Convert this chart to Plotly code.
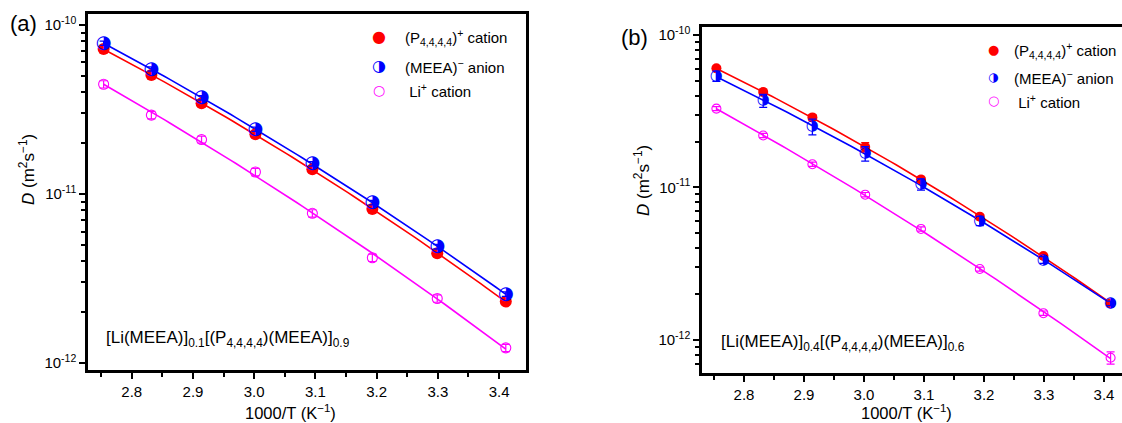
import numpy as np
import plotly.graph_objects as go

W, H = 1122, 423

# ---------------- data ----------------
inv_T = [2.754, 2.832, 2.914, 3.002, 3.095, 3.193, 3.299, 3.411]

# panel (a): [Li(MEEA)]0.1[(P4444)(MEEA)]0.9
a_cation = [7.2e-11, 5.06e-11, 3.44e-11, 2.26e-11, 1.40e-11, 8.15e-12, 4.46e-12, 2.31e-12]
a_cation_err = [2.2e-12, 1.5e-12, 1.0e-12, 0.7e-12, 0.4e-12, 0.25e-12, 0.13e-12, 0.07e-12]
a_anion = [7.8e-11, 5.49e-11, 3.71e-11, 2.42e-11, 1.51e-11, 8.9e-12, 4.88e-12, 2.56e-12]
a_anion_err = [2.3e-12, 1.6e-12, 1.1e-12, 0.7e-12, 0.45e-12, 0.27e-12, 0.15e-12, 0.08e-12]
a_li = [4.46e-11, 2.93e-11, 2.1e-11, 1.35e-11, 7.69e-12, 4.2e-12, 2.41e-12, 1.23e-12]
a_li_err = [2.2e-12, 1.5e-12, 1.0e-12, 0.7e-12, 0.38e-12, 0.21e-12, 0.12e-12, 0.06e-12]

# panel (b): [Li(MEEA)]0.4[(P4444)(MEEA)]0.6
b_cation = [6.04e-11, 4.22e-11, 2.88e-11, 1.84e-11, 1.13e-11, 6.44e-12, 3.56e-12, 1.74e-12]
b_cation_err = [1.8e-12, 2.0e-12, 1.2e-12, 1.3e-12, 0.35e-12, 0.2e-12, 0.07e-12, 0.04e-12]
b_anion = [5.38e-11, 3.71e-11, 2.51e-11, 1.67e-11, 1.05e-11, 6.05e-12, 3.35e-12, 1.74e-12]
b_anion_err = [4.2e-12, 3.6e-12, 3.0e-12, 1.8e-12, 0.9e-12, 0.42e-12, 0.17e-12, 0.06e-12]
b_li = [3.29e-11, 2.19e-11, 1.42e-11, 8.97e-12, 5.35e-12, 2.92e-12, 1.50e-12, 7.66e-13]
b_li_err = [1.0e-12, 0.7e-12, 0.45e-12, 0.3e-12, 0.17e-12, 0.09e-12, 0.05e-12, 0.07e-12]

x_ticks = [2.8, 2.9, 3.0, 3.1, 3.2, 3.3, 3.4]
y_major = [1e-12, 1e-11, 1e-10]
y_major_text = ["10<sup>-12</sup>", "10<sup>-11</sup>", "10<sup>-10</sup>"]

legend_labels = ["(P<sub>4,4,4,4</sub>)<sup>+</sup> cation",
                 "(MEEA)<sup>\u2212</sup> anion",
                 " Li<sup>+</sup> cation"]
comp_a = "[Li(MEEA)]<sub>0.1</sub>[(P<sub>4,4,4,4</sub>)(MEEA)]<sub>0.9</sub>"
comp_b = "[Li(MEEA)]<sub>0.4</sub>[(P<sub>4,4,4,4</sub>)(MEEA)]<sub>0.6</sub>"

RED, BLUE, MAG = "#FF0000", "#0000FF", "#FF00FF"
FONT = "Liberation Sans, Arial, sans-serif"
GLYPH = "DejaVu Sans"

y_minor = [m * 10.0 ** e for e in (-13, -12, -11) for m in range(2, 10)]


def fit_curve(x, y):
    c = np.polyfit(x, np.log10(y), 2)
    xs = np.linspace(min(x), max(x), 80)
    return xs, 10 ** np.polyval(c, xs)


fig = go.Figure()


def add_panel(xa, ya, cat, cat_e, an, an_e, li, li_e, msz, gsz, lsz):
    for vals, col in ((cat, RED), (an, BLUE), (li, MAG)):
        xs, ys = fit_curve(inv_T, vals)
        fig.add_trace(go.Scatter(x=xs, y=ys, mode="lines", xaxis=xa, yaxis=ya,
                                 line=dict(color=col, width=1.6), showlegend=False,
                                 hoverinfo="skip"))
    fig.add_trace(go.Scatter(x=inv_T, y=cat, mode="markers", xaxis=xa, yaxis=ya,
                             marker=dict(symbol="circle", size=msz, color=RED, line=dict(width=0)),
                             error_y=dict(type="data", array=cat_e, color=RED, thickness=1.3, width=4),
                             showlegend=False))
    fig.add_trace(go.Scatter(x=inv_T, y=an, mode="text", xaxis=xa, yaxis=ya, text=["\u25D1"] * len(an),
                             textposition="middle center",
                             textfont=dict(family=GLYPH, size=gsz, color=BLUE),
                             error_y=dict(type="data", array=an_e, color=BLUE, thickness=1.3, width=4),
                             showlegend=False))
    fig.add_trace(go.Scatter(x=inv_T, y=li, mode="markers", xaxis=xa, yaxis=ya,
                             marker=dict(symbol="circle-open", size=lsz, color=MAG, line=dict(width=1.1)),
                             error_y=dict(type="data", array=li_e, color=MAG, thickness=1.2, width=4),
                             showlegend=False))


add_panel("x", "y", a_cation, a_cation_err, a_anion, a_anion_err, a_li, a_li_err, 12, 18, 10)
add_panel("x2", "y2", b_cation, b_cation_err, b_anion, b_anion_err, b_li, b_li_err, 10, 15, 9)

tickfont = dict(family=FONT, size=15, color="black")
xcommon = dict(showline=True, linecolor="black", linewidth=2.5, mirror=True, ticks="outside",
               ticklen=6, tickwidth=2, tickcolor="black", showgrid=False, zeroline=False,
               tickfont=tickfont, automargin=False, tickmode="array", tickvals=x_ticks,
               ticktext=[f"{v:.1f}" for v in x_ticks],
               minor=dict(ticks="outside", dtick=0.05, tick0=2.75, ticklen=4, tickwidth=2,
                          tickcolor="black", showgrid=False))
ycommon = dict(type="log", showline=True, linecolor="black", linewidth=2.5, ticks="outside",
               ticklen=6, tickwidth=2, tickcolor="black", showgrid=False, zeroline=False,
               tickfont=tickfont, automargin=False, tickmode="array", tickvals=y_major,
               ticktext=y_major_text,
               minor=dict(ticks="outside", tickmode="array", tickvals=y_minor, ticklen=4,
                          tickwidth=2, tickcolor="black", showgrid=False))

fig.update_layout(
    width=W, height=H, margin=dict(l=0, r=0, t=0, b=0),
    paper_bgcolor="white", plot_bgcolor="white", showlegend=False,
    xaxis=dict(xcommon, domain=[88 / W, 526 / W], range=[2.7285, 3.444], anchor="y"),
    yaxis=dict(ycommon, domain=[1 - 370 / H, 1 - 14 / H], range=[-12.041, -9.935], mirror=True, anchor="x"),
    xaxis2=dict(xcommon, domain=[702 / W, 1.0], range=[2.73, 3.43], anchor="y2"),
    yaxis2=dict(ycommon, domain=[1 - 373.3 / H, 1 - 26.7 / H], range=[-12.218, -9.946], mirror=False, anchor="x2"),
)


def ann(text, px, py, size=16, xanchor="left", yanchor="middle", color="black", family=FONT, angle=0):
    fig.add_annotation(text=text, x=px / W, y=1 - py / H, xref="paper", yref="paper",
                       xanchor=xanchor, yanchor=yanchor, showarrow=False, textangle=angle,
                       font=dict(family=family, size=size, color=color))


# panel labels
ann("(a)", 8, 24, size=22)
ann("(b)", 634, 37, size=22, xanchor="center")

# axis titles
ytitle = "<i>D</i> (m<sup>2</sup>s<sup>\u22121</sup>)"
xtitle = "1000/T (K<sup>\u22121</sup>)"
ann(ytitle, 27, 170, size=17, xanchor="center", angle=-90)
ann(ytitle, 642, 181, size=17, xanchor="center", angle=-90)
ann(xtitle, 290, 412, size=16.5, xanchor="center")
ann(xtitle, 906, 412, size=16.5, xanchor="center")

# composition labels
ann(comp_a, 104, 339, size=17)
ann(comp_b, 719, 343, size=17)

# legends
glyphs = [("\u25CF", RED), ("\u25D1", BLUE), ("\u25CB", MAG)]
for (gx, tx, ys, gs) in ((379, 403, (36.7, 65.7, 90), (16, 16, 14)),
                         (993, 1012, (49.3, 76.7, 100), (13, 12, 13))):
    for (g, col), lab, yy, s in zip(glyphs, legend_labels, ys, gs):
        ann(g, gx, yy, size=s, xanchor="center", color=col, family=GLYPH)
        ann(lab, tx, yy + 1, size=15)

fig.write_html("out.html", config={"displayModeBar": False},
               post_script="document.body.style.margin='0px';")
